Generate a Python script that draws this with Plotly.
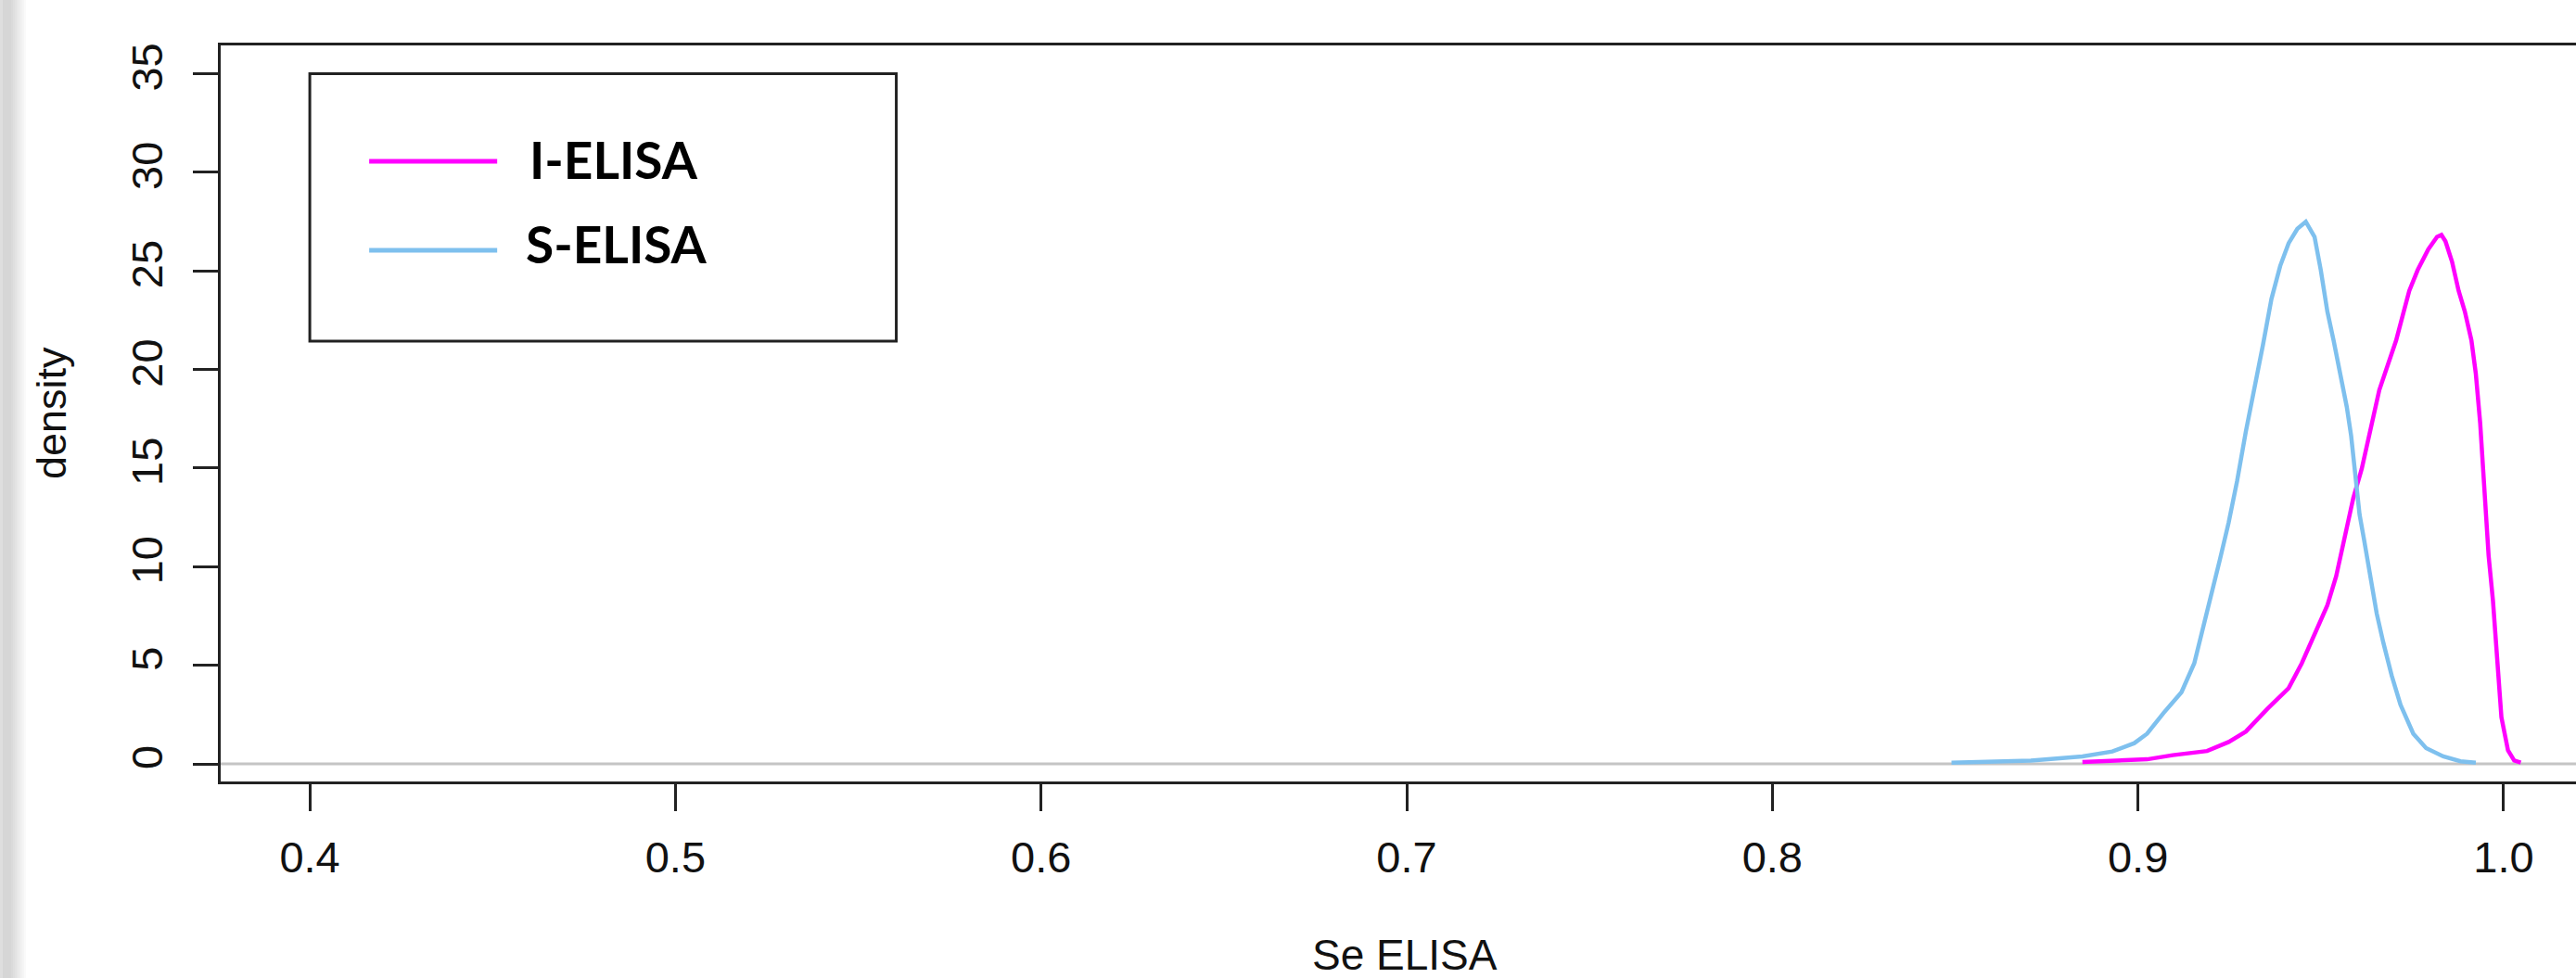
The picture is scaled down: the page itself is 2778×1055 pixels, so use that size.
import plotly.graph_objects as go

# ---- data ----
s_elisa_x = [0.849, 0.8707, 0.8848, 0.893, 0.899, 0.9025, 0.907, 0.9119, 0.9154, 0.9177,
             0.9201, 0.9224, 0.9248, 0.9271, 0.9295, 0.9318, 0.9342, 0.9365, 0.9389, 0.9412,
             0.9436, 0.9459, 0.9483, 0.95, 0.9518, 0.9535, 0.9553, 0.9571, 0.9583, 0.9594,
             0.9606, 0.9618, 0.9636, 0.9653, 0.9671, 0.9694, 0.9718, 0.9753, 0.9788, 0.9835,
             0.9882, 0.9924]
s_elisa_y = [0.06, 0.17, 0.38, 0.63, 1.05, 1.53, 2.58, 3.63, 5.1, 6.78,
             8.46, 10.35, 12.23, 14.33, 16.85, 18.95, 21.26, 23.57, 25.25, 26.4,
             27.13, 27.49, 26.72, 25.04, 22.94, 21.47, 19.79, 18.11, 16.64, 14.54,
             12.65, 11.4, 9.3, 7.62, 6.15, 4.47, 3.0, 1.53, 0.8, 0.38,
             0.13, 0.06]

i_elisa_x = [0.8848, 0.9025, 0.9095, 0.9189, 0.9248, 0.9295, 0.9354, 0.9412, 0.9448, 0.9483,
             0.9518, 0.9542, 0.9565, 0.9589, 0.9612, 0.9636, 0.966, 0.9683, 0.9706, 0.9724,
             0.9742, 0.9765, 0.9794, 0.9818, 0.983, 0.9841, 0.9859, 0.9877, 0.9894, 0.9912,
             0.9924, 0.9936, 0.9947, 0.9959, 0.9971, 0.9982, 0.9994, 1.0012, 1.0029, 1.0047]
i_elisa_y = [0.1, 0.23, 0.44, 0.65, 1.11, 1.64, 2.79, 3.84, 5.1, 6.57,
             8.04, 9.51, 11.4, 13.49, 14.96, 16.85, 18.95, 20.21, 21.47, 22.73,
             23.99, 25.04, 26.09, 26.72, 26.82, 26.5, 25.46, 23.99, 22.94, 21.47,
             19.79, 17.27, 14.33, 10.56, 8.25, 5.1, 2.37, 0.69, 0.17, 0.06]

series_names = ["I-ELISA", "S-ELISA"]
x_ticks = [0.4, 0.5, 0.6, 0.7, 0.8, 0.9, 1.0]
x_tick_labels = ["0.4", "0.5", "0.6", "0.7", "0.8", "0.9", "1.0"]
y_ticks = [0, 5, 10, 15, 20, 25, 30, 35]
y_tick_labels = ["0", "5", "10", "15", "20", "25", "30", "35"]

# ---- styling ----
W, H = 2778, 1055
ML, MR, MT, MB = 238, 0, 49, 212
MAGENTA = "#FF00FF"
SKY = "#7EC0EE"
AXC = "#222222"
TICKFONT = dict(family="Liberation Sans, Arial, sans-serif", size=47, color="#111111")
X_RANGE = [0.37563, 1.0198]
Y_RANGE = [-0.893, 36.43]

fig = go.Figure()
fig.add_trace(go.Scatter(x=i_elisa_x, y=i_elisa_y, mode="lines", name=series_names[0],
                         line=dict(color=MAGENTA, width=4.5), showlegend=False))
fig.add_trace(go.Scatter(x=s_elisa_x, y=s_elisa_y, mode="lines", name=series_names[1],
                         line=dict(color=SKY, width=4.5), showlegend=False))

ph = H - MT - MB
pw = W - ML - MR
def px2paper(p):
    return (p - ML) / pw
def py2paper(p):
    return (H - MB - p) / ph

shapes = []
# zero reference line
shapes.append(dict(type="line", xref="paper", yref="y", x0=0, x1=1, y0=0, y1=0,
                   line=dict(color="#C4C4C4", width=3), layer="below"))

# custom legend (box, sample lines)
leg_x0, leg_x1, leg_y0, leg_y1 = 0.4, 0.5604, 21.44, 35
shapes.append(dict(type="rect", xref="x", yref="y", x0=leg_x0, x1=leg_x1, y0=leg_y0, y1=leg_y1,
                   line=dict(color="#222222", width=3), fillcolor="rgba(0,0,0,0)"))
leg_line_x = (0.41624, 0.45125)
leg_line_y = [30.55, 26.04]
for c, yy in zip([MAGENTA, SKY], leg_line_y):
    shapes.append(dict(type="line", xref="x", yref="y", x0=leg_line_x[0], x1=leg_line_x[1],
                       y0=yy, y1=yy, line=dict(color=c, width=5)))

# left screenshot shadow strip (gradient)
grad = [(0, 3, 222), (3, 10, 214)]
for i in range(10, 28, 2):
    g = int(214 + (255 - 214) * (i - 10) / 18)
    grad.append((i, i + 2, g))
for a, b, g in grad:
    shapes.append(dict(type="rect", xref="paper", yref="paper", x0=px2paper(a), x1=px2paper(b),
                       y0=-0.3, y1=1.1, line=dict(width=0),
                       fillcolor=f"rgb({g},{g},{g})", layer="below"))

annotations = []
legend_text_x = [0.4596, 0.4586]
legend_text_y = [30.65, 26.38]
for name, xx, yy in zip(series_names, legend_text_x, legend_text_y):
    annotations.append(dict(x=xx, y=yy, xref="x", yref="y", text=f"<b>{name}</b>",
                            showarrow=False, xanchor="left", yanchor="middle",
                            font=dict(family="Lato, Open Sans, sans-serif", size=55, color="#000000")))
# axis titles
annotations.append(dict(x=px2paper(1515), y=py2paper(1030), xref="paper", yref="paper", text="Se ELISA",
                        showarrow=False, xanchor="center", yanchor="middle",
                        font=dict(family="Liberation Sans, Arial, sans-serif", size=46, color="#111111")))
annotations.append(dict(x=px2paper(55), y=0.5, xref="paper", yref="paper", text="density",
                        showarrow=False, xanchor="center", yanchor="middle", textangle=-90,
                        font=dict(family="Liberation Sans, Arial, sans-serif", size=45, color="#111111")))

fig.update_layout(
    width=W, height=H,
    margin=dict(l=ML, r=MR, t=MT, b=MB, pad=0),
    paper_bgcolor="white", plot_bgcolor="white",
    shapes=shapes, annotations=annotations,
    showlegend=False,
)
fig.update_xaxes(range=X_RANGE, tickvals=x_ticks, ticktext=x_tick_labels,
                 showgrid=False, zeroline=False, automargin=False,
                 showline=True, linecolor=AXC, linewidth=3, mirror=True,
                 ticks="outside", ticklen=29, tickwidth=2.5, tickcolor=AXC,
                 tickfont=TICKFONT, ticklabelstandoff=10)
fig.update_yaxes(range=Y_RANGE, tickvals=y_ticks, ticktext=y_tick_labels,
                 showgrid=False, zeroline=False, automargin=False,
                 showline=True, linecolor=AXC, linewidth=3, mirror=False,
                 ticks="outside", ticklen=27, tickwidth=2.5, tickcolor=AXC,
                 tickangle=-90, tickfont=TICKFONT, ticklabelstandoff=14)

fig.write_html("out.html",
               config={"displayModeBar": False},
               post_script="document.body.style.margin='0';document.body.style.overflow='hidden';")
